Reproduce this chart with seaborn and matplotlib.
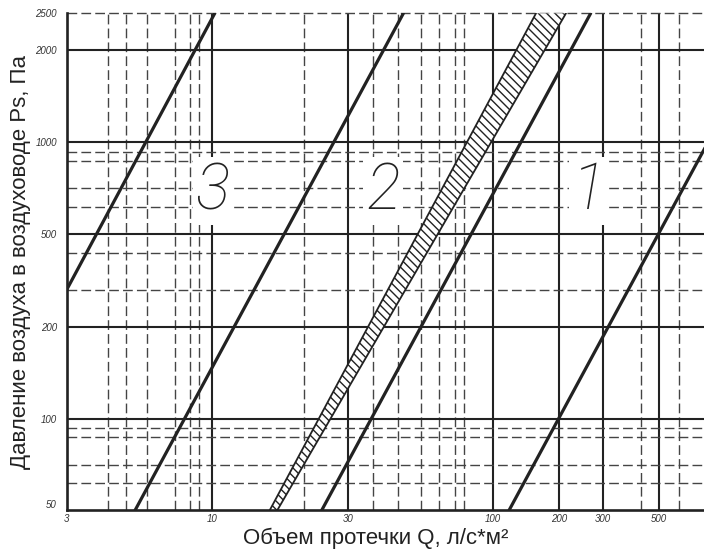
import numpy as np
import seaborn as sns
import matplotlib.pyplot as plt

# ось X: подписи и линии сетки
x_ticks = [3, 10, 30, 100, 200, 300, 500]
x_major = [10, 30, 100, 200, 300, 500]
x_minor = [4.23, 4.91, 5.81, 7.35, 8.3, 8.96, 21, 36.8, 45.2, 55, 63.9, 72.6, 78.2, 423, 600]

# ось Y
y_ticks = [50, 100, 200, 500, 1000, 2000, 2500]
y_major = [100, 200, 500, 1000, 2000]
y_minor = [65, 75, 90, 95, 320, 440, 650, 750, 900, 950, 2500]

# линии характеристик (Q, Ps)
q_line3 = [3, 10.2]
p_line3 = [320, 2500]
q_line2 = [5.28, 47.4]
p_line2 = [50, 2500]
q_band_lo = [15.9, 156.6]
q_band_hi = [16.9, 212.7]
p_band = [50, 2500]
q_line2b = [24.2, 267]
p_line2b = [50, 2500]
q_line1 = [118, 780]
p_line1 = [50, 1000]

curve_labels = ["3", "2", "1"]
label_q = [10.05, 40, 263]
label_p = [735, 735, 735]

# шкалы как на исходной номограмме (неравномерные)
x_anchor_val = np.log10([3, 10, 30, 100, 200, 300, 500, 1000])
x_anchor_pos = [66.7, 212.3, 348.3, 493.3, 559.3, 603.3, 659.3, 735.2]
y_anchor_val = [50, 100, 200, 500, 1000, 2000, 2500]
y_anchor_pos = [44.7, 136.3, 228.3, 320.7, 412.7, 505, 541.7]


def x_fwd(v):
    v = np.clip(np.asarray(v, dtype=float), 1e-6, None)
    return np.interp(np.log10(v), x_anchor_val, x_anchor_pos)


def x_inv(p):
    return 10 ** np.interp(p, x_anchor_pos, x_anchor_val)


def y_fwd(v):
    return np.interp(v, y_anchor_val, y_anchor_pos)


def y_inv(p):
    return np.interp(p, y_anchor_pos, y_anchor_val)


sns.set_style("white")
plt.rcParams['font.family'] = ['Liberation Sans', 'DejaVu Sans']

fig = plt.figure(figsize=(7.04, 5.55), dpi=100)
ax = fig.add_axes([66.7 / 704, 44.7 / 555, (704 - 66.7) / 704, (541.7 - 44.7) / 555])
ax.set_xscale('function', functions=(x_fwd, x_inv))
ax.set_yscale('function', functions=(y_fwd, y_inv))

dark = '#222222'
dash = (0, (7, 3))
for v in x_major:
    ax.axvline(v, color=dark, lw=1.5, zorder=1)
for v in x_minor:
    ax.axvline(v, color='#444444', lw=1.0, ls=dash, zorder=1)
for v in y_major:
    ax.axhline(v, color=dark, lw=1.5, zorder=1)
for v in y_minor:
    ax.axhline(v, color='#444444', lw=1.0, ls=dash, zorder=1, clip_on=False)

# заштрихованная полоса
ax.fill(q_band_lo + q_band_hi[::-1], p_band + p_band[::-1],
        facecolor='white', edgecolor=dark, hatch='\\\\\\\\', lw=0, zorder=2)
sns.lineplot(x=q_band_lo, y=p_band, ax=ax, color=dark, lw=1.3, zorder=3)
sns.lineplot(x=q_band_hi, y=p_band, ax=ax, color=dark, lw=1.3, zorder=3)

for q, p in [(q_line3, p_line3), (q_line2, p_line2), (q_line2b, p_line2b), (q_line1, p_line1)]:
    sns.lineplot(x=q, y=p, ax=ax, color=dark, lw=2.3, zorder=3)

for t, q, p in zip(curve_labels, label_q, label_p):
    ax.text(q, p, t, fontsize=46, style='italic', fontweight='light',
            family=['Roboto', 'DejaVu Sans'], color=dark, ha='center', va='center', zorder=4,
            bbox=dict(boxstyle='square,pad=0.05', fc='white', ec='none'))

ax.set_xlim(3, 752)
ax.set_ylim(50, 2500)

ax.set_xticks(x_ticks)
ax.set_xticklabels([str(v) for v in x_ticks])
ax.set_yticks(y_ticks)
ax.set_yticklabels([str(v) for v in y_ticks])
ax.xaxis.set_minor_locator(plt.NullLocator())
ax.yaxis.set_minor_locator(plt.NullLocator())
ax.tick_params(length=0, labelcolor='#333333')
ax.tick_params(axis='x', pad=3)
ax.tick_params(axis='y', pad=7)
for lab in ax.get_xticklabels() + ax.get_yticklabels():
    lab.set_fontfamily(['Liberation Sans', 'DejaVu Sans'])
    lab.set_fontstyle('italic')
    lab.set_fontsize(7)
ax.get_yticklabels()[0].set_va('bottom')

for s in ['top', 'right']:
    ax.spines[s].set_visible(False)
for s in ['left', 'bottom']:
    ax.spines[s].set_color(dark)
    ax.spines[s].set_linewidth(1.9)
    ax.spines[s].set_zorder(5)

ax.set_xlabel('Объем протечки Q, л/с*м²', fontsize=16, color='#222222')
ax.set_ylabel('Давление воздуха в воздуховоде Ps, Па', fontsize=16, color='#222222')
ax.xaxis.set_label_coords(0.4845, -0.056)
ax.xaxis.label.set_va('center')
ax.yaxis.set_label_coords(-0.072, 0.5)
ax.yaxis.label.set_va('center')

fig.savefig('out.png', dpi=100)
